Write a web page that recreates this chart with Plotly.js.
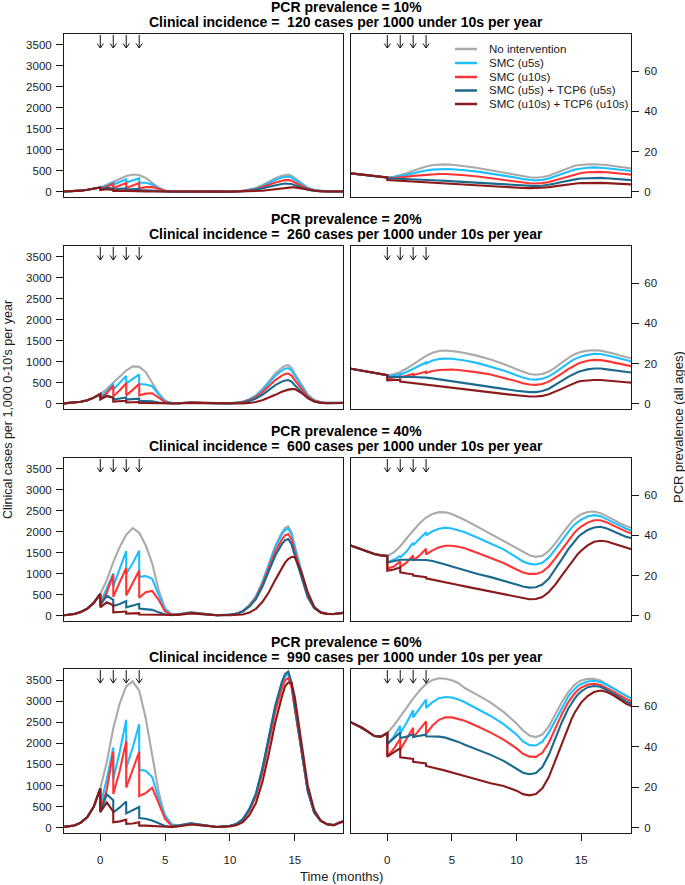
<!DOCTYPE html>
<html><head><meta charset="utf-8">
<script src="https://cdn.plot.ly/plotly-3.0.1.min.js"></script>
<style>html,body{margin:0;padding:0;background:#fff}#chart{width:685px;height:885px}</style>
</head><body><div id="chart"></div><script>
// ---------- data ----------
const months = [-3,-2,-1.5,-1,-0.5,0,0,0.5,1,1,1.5,2,2,2.5,3,3,3.5,4,4.5,5,5.5,6,7,8,9,10,10.5,11,11.5,12,12.5,13,13.5,14,14.25,14.5,14.75,15,15.5,16,16.5,17,17.5,18,18.5,19];
const seriesNames = ["No intervention","SMC (u5s)","SMC (u10s)","SMC (u5s) + TCP6 (u5s)","SMC (u10s) + TCP6 (u10s)"];
const seriesColors = ["#aaaaaa","#1ebeff","#ff3535","#1b6a8e","#8b1a1a"];
const prevalenceLevels = ["10%","20%","40%","60%"];
const incidenceLevels = [120,260,600,990];
const doseMonths = [0,1,2,3];
const xTicks = [0,5,10,15];
const incTicks = [0,500,1000,1500,2000,2500,3000,3500];
const prevTicks = [0,20,40,60];

// clinical incidence (cases per 1,000 0-10s per year)
const incNone10 = [2,12,25,45,70, 100,100,165,240,240,315,375,375,410,400,400,330,215,100,30,8, 4,12,7,3, 5,10,22,49,89,155,238,321,382,403,410,382,321,205,98,40,18,9,7,9,12];
const incU5_10 = [2,12,25,45,70, 100,80,150,220,170,235,296,220,275,320,215,215,175,80,22,6, 3,10,6,2, 4,9,20,43,78,137,211,285,338,357,363,338,285,182,86,35,16,8,6,8,11];
const incU10_10 = [2,12,25,45,70, 100,70,120,190,90,150,210,90,150,205,80,110,115,60,18,5, 3,10,6,2, 3,7,15,34,61,107,164,221,263,277,282,263,221,141,67,27,12,6,5,7,9];
const incU5T_10 = [2,12,25,45,70, 100,60,95,80,50,70,80,50,60,70,40,40,30,15,5,3, 3,9,5,2, 2,5,11,24,43,76,116,157,186,197,200,186,157,100,48,19,9,5,4,5,7];
const incU10T_10 = [2,12,25,45,70, 100,40,60,45,20,25,25,12,15,15,8,8,6,4,2,1, 2,5,4,2, 1,2,3,6,12,24,42,64,85,94,101,104,104,78,42,16,6,4,3,4,6];

const incNone20 = [3,20,45,85,145, 230,230,350,500,500,650,790,790,890,880,880,760,520,250,70,20, 12,35,20,6, 11,22,50,109,199,348,535,721,857,905,920,857,721,460,219,89,40,20,15,20,25];
const incU5_20 = [3,20,45,85,145, 230,150,300,480,340,500,660,480,600,700,470,460,420,220,60,15, 10,30,18,5, 10,20,46,101,184,321,494,666,792,836,850,792,666,425,202,82,37,19,14,19,24];
const incU10_20 = [3,20,45,85,145, 230,120,250,430,180,320,490,200,330,475,200,240,250,150,40,10, 10,30,18,5, 9,17,39,86,156,272,418,564,671,708,720,671,564,360,171,70,31,16,12,17,22];
const incU5T_20 = [3,20,45,85,145, 230,130,195,150,100,120,150,100,110,120,70,65,55,30,10,5, 10,28,17,5, 7,14,31,67,122,214,328,443,527,556,565,527,443,283,134,55,24,13,10,15,20];
const incU10T_20 = [3,20,45,85,145, 230,100,180,140,50,60,70,30,35,40,20,18,15,8,4,2, 6,20,14,4, 4,5,8,19,41,81,139,212,285,314,336,348,348,261,139,52,18,10,8,12,18];

const incNone40 = [5,40,90,170,310, 520,520,850,1280,1280,1640,1930,1930,2090,1980,1980,1680,1250,620,170,40, 35,85,45,12, 25,50,115,255,460,805,1240,1670,1985,2095,2130,1985,1670,1065,510,205,90,45,40,60,80];
const incU5_40 = [5,40,90,170,310, 520,300,650,1010,700,1100,1540,1000,1250,1550,930,945,880,500,150,30, 30,75,40,10, 25,50,112,248,450,786,1208,1630,1940,2046,2080,1940,1630,1040,495,200,88,45,40,60,80];
const incU10_40 = [5,40,90,170,310, 520,250,550,980,450,800,1140,480,780,1080,430,560,590,380,100,20, 30,75,40,10, 23,47,105,232,421,737,1133,1529,1817,1919,1950,1817,1529,975,464,189,84,43,40,60,80];
const incU5T_40 = [5,40,90,170,310, 520,250,480,380,230,280,350,200,240,285,170,160,140,80,30,10, 28,72,38,10, 22,44,99,218,395,692,1063,1435,1706,1800,1830,1706,1435,915,436,178,79,40,38,58,78];
const incU10T_40 = [5,40,90,170,310, 520,200,320,250,80,90,100,50,55,60,30,28,22,15,8,4, 20,55,35,10, 15,20,30,75,165,325,560,855,1146,1266,1353,1401,1400,1050,560,210,70,45,40,60,80];

const incNone60 = [10,50,120,250,500, 930,930,1550,2350,2350,2950,3350,3350,3470,3250,3250,2600,1700,850,250,70, 55,110,65,20, 45,90,200,440,790,1380,2110,2850,3390,3580,3640,3400,2860,1830,870,355,160,80,60,130,180];
const incU5_60 = [10,50,120,250,500, 930,520,1150,1900,1150,1800,2560,1420,1900,2450,1370,1350,1200,690,290,80, 50,100,60,18, 45,90,205,445,800,1390,2120,2860,3400,3590,3650,3410,2870,1835,870,355,160,80,60,130,180];
const incU10_60 = [10,50,120,250,500, 930,400,900,1800,800,1350,2050,950,1350,1800,750,820,950,560,210,45, 45,95,55,18, 40,80,180,400,740,1300,2020,2750,3300,3490,3550,3330,2820,1820,880,360,160,80,60,130,180];
const incU5T_60 = [10,50,120,250,500, 930,370,790,650,360,480,620,340,420,490,230,210,170,110,40,20, 45,95,55,18, 45,90,200,440,800,1400,2150,2900,3450,3640,3700,3450,2900,1850,880,360,160,80,60,130,180];
const incU10T_60 = [10,50,120,250,500, 930,370,600,380,130,150,190,90,100,130,50,50,40,30,20,15, 30,75,50,15, 30,60,130,300,580,1080,1750,2500,3100,3350,3440,3430,3100,2100,1000,420,170,80,60,120,160];

// PCR prevalence (all ages, %)
const prevNone10 = [9.3,8.5,8.0,7.6,7.2, 7.1,7.1,7.5,8.2,8.2,9.2,10.4,10.4,11.6,12.6,12.6,13.3,13.6,13.6,13.4,13.1, 12.7,11.8,10.7,9.5, 8.2,7.6,7.2,7.0,7.3,8.0,9.2,10.5,11.8,12.4,12.9,13.2,13.4,13.6,13.7,13.6,13.3,12.8,12.3,11.8,11.5];
const prevU5_10 = [9.3,8.5,8.0,7.6,7.2, 7.1,7.0,7.3,7.8,7.8,8.4,9.2,9.2,10.0,10.6,10.6,11.0,11.2,11.3,11.2,11.0, 10.7,10.0,9.1,8.1, 7.0,6.3,5.8,5.6,5.9,6.6,7.7,8.9,10.0,10.5,11.0,11.3,11.6,11.9,12.1,12.0,11.7,11.3,10.9,10.5,10.2];
const prevU10_10 = [9.3,8.5,8.0,7.6,7.2, 7.1,6.6,6.8,7.1,7.1,7.5,7.9,7.9,8.2,8.5,8.5,8.7,8.8,8.8,8.7,8.5, 8.2,7.6,6.8,6.0, 5.0,4.5,4.2,4.1,4.3,4.9,5.8,6.8,7.8,8.3,8.7,9.0,9.3,9.7,9.9,9.9,9.7,9.4,9.0,8.7,8.4];
const prevU5T_10 = [9.3,8.5,8.0,7.6,7.2, 7.1,6.7,6.6,6.4,6.4,6.3,6.1,6.1,6.0,5.8,5.8,5.7,5.6,5.4,5.2,5.0, 4.8,4.4,4.0,3.6, 3.1,2.9,2.8,2.8,3.0,3.5,4.1,4.9,5.6,5.9,6.2,6.4,6.6,6.8,7.0,6.9,6.7,6.4,6.1,5.9,5.7];
const prevU10T_10 = [9.3,8.5,8.0,7.6,7.2, 7.1,5.8,5.6,5.4,5.4,5.2,5.0,5.0,4.8,4.6,4.6,4.4,4.2,4.0,3.8,3.6, 3.4,3.1,2.8,2.5, 2.1,1.9,1.8,1.8,2.0,2.3,2.8,3.3,3.7,3.9,4.1,4.2,4.3,4.4,4.5,4.4,4.3,4.1,3.9,3.7,3.6];

const prevNone20 = [17.6,16.5,15.8,15.1,14.5, 14.2,14.2,14.7,15.8,15.8,17.5,19.5,19.5,21.8,23.8,23.8,25.3,26.2,26.5,26.3,25.8, 25.2,23.8,22.0,19.8, 17.2,15.8,14.8,14.4,14.8,16.0,18.0,20.5,22.8,23.8,24.6,25.3,25.8,26.4,26.6,26.4,25.8,25.0,24.0,23.0,22.4];
const prevU5_20 = [17.6,16.5,15.8,15.1,14.5, 14.2,13.5,14.0,14.8,14.5,15.8,17.5,17.2,18.8,20.5,20.0,21.5,22.2,22.5,22.4,22.0, 21.5,20.2,18.5,16.5, 14.2,13.0,12.2,12.0,12.4,13.6,15.6,18.0,20.3,21.3,22.2,22.9,23.5,24.3,24.8,24.7,24.2,23.4,22.5,21.5,20.9];
const prevU10_20 = [17.6,16.5,15.8,15.1,14.5, 14.2,12.5,13.0,13.6,13.0,13.8,14.8,14.2,15.0,16.0,15.3,16.3,16.8,17.0,17.0,16.8, 16.5,15.6,14.5,13.0, 11.2,10.2,9.6,9.4,9.8,11.0,12.8,15.0,17.2,18.2,19.1,19.9,20.5,21.4,21.8,21.7,21.2,20.5,19.8,19.0,18.5];
const prevU5T_20 = [17.6,16.5,15.8,15.1,14.5, 14.2,13.3,13.4,13.5,13.5,13.4,13.3,13.3,13.2,13.0,13.0,12.6,12.1,11.6,11.1,10.6, 10.1,9.2,8.3,7.4, 6.5,6.0,5.8,5.8,6.3,7.5,9.3,11.4,13.4,14.3,15.1,15.8,16.3,17.1,17.5,17.5,17.1,16.6,16.1,15.7,15.4];
const prevU10T_20 = [17.6,16.5,15.8,15.1,14.5, 14.2,11.6,11.7,11.9,11.0,10.6,10.2,10.2,9.8,9.4,9.4,9.0,8.6,8.2,7.8,7.4, 7.0,6.3,5.6,4.9, 4.2,3.8,3.6,3.6,3.9,4.7,5.9,7.4,8.9,9.7,10.3,10.9,11.3,11.7,11.8,11.8,11.6,11.3,11.0,10.7,10.4];

const prevNone40 = [35.3,33.0,32.0,30.7,30.0, 29.7,29.7,31.5,34.5,34.5,38.5,42.5,42.5,46.0,48.8,48.8,50.6,51.5,51.4,50.6,49.2, 47.6,44.2,40.6,37.0, 33.3,31.6,30.1,29.3,29.8,32.2,36.0,40.5,44.8,46.6,48.2,49.5,50.5,51.6,51.8,51.0,49.5,47.8,46.0,44.5,43.6];
const prevU5_40 = [35.3,33.0,32.0,30.7,30.0, 29.7,26.5,27.8,29.8,29.0,32.0,36.3,35.0,38.5,41.5,40.0,42.0,43.2,43.8,43.4,42.6, 41.5,38.8,36.0,33.0, 29.0,27.0,25.8,25.5,26.3,29.0,33.0,37.5,41.8,43.7,45.3,46.7,47.8,49.3,50.0,49.5,48.0,46.4,44.7,43.2,42.2];
const prevU10_40 = [35.3,33.0,32.0,30.7,30.0, 29.7,23.5,24.5,27.0,24.2,26.5,30.0,27.5,30.0,33.3,30.5,32.5,34.0,34.8,34.8,34.3, 33.5,31.2,28.8,26.2, 23.0,21.5,20.8,20.8,21.8,24.5,28.5,33.0,37.5,39.5,41.4,43.0,44.3,46.3,47.5,47.5,46.4,44.8,43.2,41.8,40.7];
const prevU5T_40 = [35.3,33.0,32.0,30.7,30.0, 29.7,26.5,27.2,27.8,27.8,27.8,27.8,27.8,27.8,27.7,27.7,27.2,26.5,25.5,24.5,23.5, 22.5,20.8,19.2,17.5, 15.5,14.5,14.0,14.2,15.5,18.5,23.0,28.0,33.0,35.2,37.3,39.0,40.5,42.6,43.9,44.2,43.4,42.0,40.5,39.2,38.4];
const prevU10T_40 = [35.3,33.0,32.0,30.7,30.0, 29.7,22.4,23.0,24.0,21.6,21.0,20.6,20.0,19.6,19.2,18.6,18.0,17.4,16.7,16.0,15.3, 14.6,13.3,12.0,10.8, 9.3,8.6,8.2,8.3,9.3,11.8,15.5,20.0,24.5,26.7,28.8,30.7,32.3,35.0,36.8,37.3,36.9,35.9,34.8,33.6,32.8];

const prevNone60 = [52.6,49.5,47.5,45.3,45.0, 46.8,46.8,50.5,55.0,55.0,59.5,63.8,63.8,67.8,71.0,71.0,73.0,73.8,73.6,72.8,71.5, 69.0,65.5,61.8,57.2, 51.5,48.0,45.6,44.8,46.0,50.0,56.0,62.0,67.0,69.0,70.6,71.8,72.7,73.5,73.6,72.7,71.0,69.0,67.0,65.0,63.7];
const prevU5_60 = [52.6,49.5,47.5,45.3,45.0, 46.8,41.3,45.0,50.4,46.5,52.0,58.0,54.5,59.0,63.3,59.2,62.0,64.0,64.6,64.3,63.4, 62.0,58.5,55.2,51.2, 46.0,42.6,40.8,40.6,42.5,47.0,53.0,59.5,64.8,67.0,68.7,70.0,71.0,72.2,72.6,72.0,70.5,68.7,66.8,64.8,63.4];
const prevU10_60 = [52.6,49.5,47.5,45.3,45.0, 46.8,35.1,39.0,43.9,38.5,44.0,49.4,44.5,48.5,52.5,46.4,50.5,53.3,54.6,54.5,53.8, 52.8,50.0,47.0,43.5, 39.2,36.5,35.1,35.0,37.0,42.0,49.0,56.0,62.0,64.5,66.4,68.0,69.2,70.7,71.1,70.5,69.0,67.2,65.3,63.5,62.2];
const prevU5T_60 = [52.6,49.5,47.5,45.3,45.0, 46.8,41.3,44.0,47.0,44.3,45.0,46.2,44.8,45.4,46.0,45.2,45.2,45.0,44.5,43.5,42.4, 41.0,38.5,36.0,33.0, 29.0,27.2,26.4,27.0,30.0,36.0,44.0,52.0,58.8,61.5,63.8,65.8,67.3,69.4,70.0,69.6,68.0,66.2,64.2,62.3,61.0];
const prevU10T_60 = [52.6,49.5,47.5,45.3,45.0, 46.8,35.1,37.0,39.3,34.8,34.5,34.0,32.6,32.3,31.8,30.5,29.8,29.0,28.2,27.3,26.4, 25.4,23.6,22.0,20.6, 18.3,16.6,16.0,16.6,19.5,25.0,33.0,42.0,50.0,53.5,56.8,59.5,61.8,65.0,67.0,67.8,67.0,65.4,63.5,61.2,59.8];

// ---------- build ----------
const incData = [
  [incNone10, incU5_10, incU10_10, incU5T_10, incU10T_10],
  [incNone20, incU5_20, incU10_20, incU5T_20, incU10T_20],
  [incNone40, incU5_40, incU10_40, incU5T_40, incU10T_40],
  [incNone60, incU5_60, incU10_60, incU5T_60, incU10T_60]
];
const prevData = [
  [prevNone10, prevU5_10, prevU10_10, prevU5T_10, prevU10T_10],
  [prevNone20, prevU5_20, prevU10_20, prevU5T_20, prevU10T_20],
  [prevNone40, prevU5_40, prevU10_40, prevU5T_40, prevU10T_40],
  [prevNone60, prevU5_60, prevU10_60, prevU5T_60, prevU10T_60]
];

const W = 685, H = 885;
const colL = [64, 343], colR = [351, 631];
const rowPx = [[34,197],[246,409],[458,621],[669,833]];
const fx = p => p / W, fy = p => 1 - p / H;
const FONT = '"Liberation Sans", Arial, Helvetica, sans-serif';
const INK = '#1a1a1a';
const sx = n => (n === 1 ? '' : String(n));

const layout = {
  width: W, height: H,
  margin: {l: 0, r: 0, t: 0, b: 0},
  paper_bgcolor: '#fff', plot_bgcolor: '#fff',
  showlegend: false,
  font: {family: FONT, size: 11.5, color: INK},
  shapes: [], annotations: []
};
const axBase = {
  showline: true, mirror: true, linecolor: INK, linewidth: 1,
  showgrid: false, zeroline: false,
  ticks: 'outside', ticklen: 7, tickwidth: 1, tickcolor: INK,
  tickfont: {family: FONT, size: 11.5, color: INK}, fixedrange: true
};
const traces = [];

for (let r = 0; r < 4; r++) {
  const li = 2 * r + 1, ri = 2 * r + 2;
  const yd = [fy(rowPx[r][1]), fy(rowPx[r][0])];
  const bottom = r === 3;
  const xCommon = Object.assign({}, axBase, {
    tickvals: xTicks, ticktext: xTicks.map(String),
    ticks: bottom ? 'outside' : '', showticklabels: bottom, ticklabelstandoff: 9
  });
  layout['xaxis' + sx(li)] = Object.assign({}, xCommon, {domain: [fx(colL[0]), fx(colL[1])], range: [-2.8, 18.72], anchor: 'y' + sx(li)});
  layout['xaxis' + sx(ri)] = Object.assign({}, xCommon, {domain: [fx(colR[0]), fx(colR[1])], range: [-2.81, 18.86], anchor: 'y' + sx(ri)});
  layout['yaxis' + sx(li)] = Object.assign({}, axBase, {domain: yd, range: [-126, 3762], tickvals: incTicks, ticktext: incTicks.map(String), anchor: 'x' + sx(li), ticklabelstandoff: 2});
  layout['yaxis' + sx(ri)] = Object.assign({}, axBase, {domain: yd, range: [-2.6, 78.4], tickvals: prevTicks, ticktext: prevTicks.map(String), side: 'right', anchor: 'x' + sx(ri), ticklabelstandoff: 3});

  for (let s = 0; s < 5; s++) {
    traces.push({x: months, y: incData[r][s], xaxis: 'x' + sx(li), yaxis: 'y' + sx(li), type: 'scatter', mode: 'lines',
      name: seriesNames[s], line: {color: seriesColors[s], width: 2.1}, hoverinfo: 'skip'});
  }
  for (let s = 0; s < 5; s++) {
    traces.push({x: months, y: prevData[r][s], xaxis: 'x' + sx(ri), yaxis: 'y' + sx(ri), type: 'scatter', mode: 'lines',
      name: seriesNames[s], line: {color: seriesColors[s], width: 2.1}, hoverinfo: 'skip'});
  }

  // dose arrows
  [li, ri].forEach(n => {
    doseMonths.forEach(t => {
      layout.shapes.push({type: 'path', xref: 'x' + sx(n), yref: 'y' + sx(n) + ' domain',
        path: `M${t},0.994 L${t},0.914 M${t - 0.24},0.942 L${t},0.914 L${t + 0.24},0.942`,
        line: {color: '#111', width: 1}});
    });
  });

  // row titles
  const top = rowPx[r][0];
  layout.annotations.push({xref: 'paper', yref: 'paper', x: fx(346), y: fy(top - 27), xanchor: 'center', yanchor: 'middle', showarrow: false,
    text: '<b>PCR prevalence = ' + prevalenceLevels[r] + '</b>', font: {family: FONT, size: 14, color: '#000'}});
  layout.annotations.push({xref: 'paper', yref: 'paper', x: fx(346), y: fy(top - 12), xanchor: 'center', yanchor: 'middle', showarrow: false,
    text: '<b>Clinical incidence =\u00a0 ' + incidenceLevels[r] + ' cases per 1000 under 10s per year</b>', font: {family: FONT, size: 14, color: '#000'}});
}

// legend (top-right panel)
const legY = [49, 63, 77, 90.5, 104];
seriesNames.forEach((nm, i) => {
  layout.shapes.push({type: 'line', xref: 'paper', yref: 'paper', x0: fx(455), x1: fx(477), y0: fy(legY[i]), y1: fy(legY[i]),
    line: {color: seriesColors[i], width: 2.5}});
  layout.annotations.push({xref: 'paper', yref: 'paper', x: fx(487), y: fy(legY[i]), xanchor: 'left', yanchor: 'middle', showarrow: false,
    text: nm, font: {family: FONT, size: 11.5, color: INK}});
});

// axis titles
layout.annotations.push({xref: 'paper', yref: 'paper', x: fx(341), y: fy(876), xanchor: 'center', yanchor: 'middle', showarrow: false,
  text: 'Time (months)', font: {family: FONT, size: 13, color: INK}});
layout.annotations.push({xref: 'paper', yref: 'paper', x: fx(8), y: fy(410), xanchor: 'center', yanchor: 'middle', showarrow: false, textangle: -90,
  text: "Clinical cases per 1,000 0-10's per year", font: {family: FONT, size: 12.5, color: INK}});
layout.annotations.push({xref: 'paper', yref: 'paper', x: fx(678), y: fy(427), xanchor: 'center', yanchor: 'middle', showarrow: false, textangle: -90,
  text: 'PCR prevalence (all ages)', font: {family: FONT, size: 13, color: INK}});

Plotly.newPlot('chart', traces, layout, {staticPlot: true, displayModeBar: false});
</script></body></html>
